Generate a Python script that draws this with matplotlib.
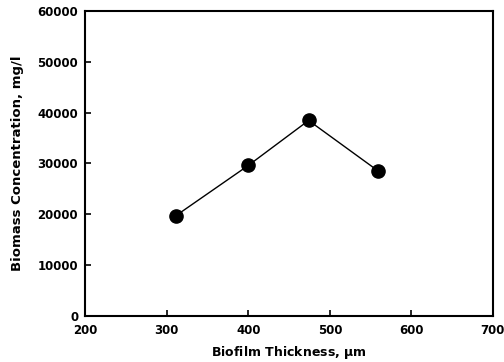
import matplotlib
matplotlib.use("Agg")
import matplotlib.pyplot as plt

plt.rcParams['font.family'] = ['DejaVu Sans']
plt.rcParams['font.weight'] = 'bold'

thickness = [311, 400, 474, 559]
biomass = [19700, 29600, 38450, 28550]
xticks = [200, 300, 400, 500, 600, 700]
yticks = [0, 10000, 20000, 30000, 40000, 50000, 60000]

fig = plt.figure(figsize=(5.04, 3.62), dpi=100)
ax = fig.add_axes([0.169, 0.127, 0.809, 0.843])

ax.plot(thickness, biomass, color='black', lw=1.0, marker='o', ms=9.5)

ax.set_xlim(200, 700)
ax.set_ylim(0, 60000)
ax.set_xticks(xticks)
ax.set_yticks(yticks)
ax.tick_params(direction='in', length=4, width=1.2, labelsize=8.5,
               top=False, right=False)
ax.tick_params(axis='x', pad=5.5)
ax.tick_params(axis='y', pad=5)
for s in ax.spines.values():
    s.set_linewidth(1.5)

ax.set_xlabel('Biofilm Thickness, $\\mathbf{\\mu}$m', fontsize=9, fontweight='bold', labelpad=5)
ax.set_ylabel('Biomass Concentration, mg/l', fontsize=9.5, fontweight='bold', labelpad=10)

fig.savefig('out.png', dpi=100)
